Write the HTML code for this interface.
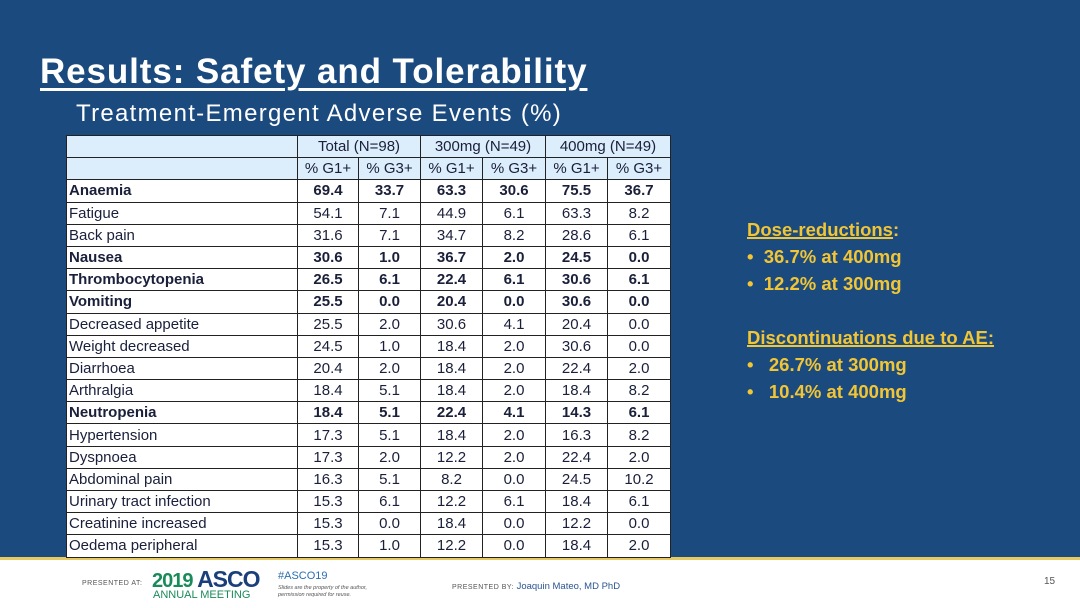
<!DOCTYPE html>
<html><head><meta charset="utf-8"><style>
body{margin:0;width:1080px;height:608px;position:relative;overflow:hidden;background:#fff;font-family:"Liberation Sans",sans-serif}
#bg{position:absolute;left:0;top:0;width:1080px;height:557px;background:#1b4a7f}
#gold{position:absolute;left:0;top:557px;width:1080px;height:3px;background:#e8c860}
#title{position:absolute;left:40px;top:52px;color:#fff;font-weight:bold;font-size:35px;letter-spacing:0.9px;text-decoration:underline;text-decoration-thickness:3px;text-underline-offset:5px;white-space:nowrap}
#sub{position:absolute;left:76px;top:100px;color:#fff;font-size:24px;white-space:nowrap;letter-spacing:1.3px}
table{position:absolute;left:66px;top:135px;border-collapse:collapse;background:#fff;table-layout:fixed}
td{border:1px solid #222;height:21.2px;padding:0 2px;font-size:15px;color:#1a1f3a;text-align:center;white-space:nowrap;overflow:hidden;letter-spacing:0}
td.l{text-align:left}
tr.h td{background:#dcedfb}
tr.b td{font-weight:bold}
#side{position:absolute;left:747px;top:216px;color:#f2c535;font-weight:bold;font-size:18.5px;line-height:27px;white-space:nowrap;letter-spacing:0}
#side u{text-decoration-thickness:2px}
.ft{position:absolute;white-space:nowrap}
</style></head><body>
<div id="bg"></div>
<div id="gold"></div>
<div id="title">Results: Safety and Tolerability</div>
<div id="sub">Treatment-Emergent Adverse Events (%)</div>
<table id="t">
<colgroup><col style="width:231px"><col style="width:61px"><col style="width:62px"><col style="width:62px"><col style="width:63px"><col style="width:62px"><col style="width:63px"></colgroup>
<tr class="h"><td></td><td colspan="2">Total (N=98)</td><td colspan="2">300mg (N=49)</td><td colspan="2">400mg (N=49)</td></tr>
<tr class="h"><td></td><td>% G1+</td><td>% G3+</td><td>% G1+</td><td>% G3+</td><td>% G1+</td><td>% G3+</td></tr>
</table>
<div id="side">
<div><u>Dose-reductions</u>:</div>
<div>•&nbsp;&nbsp;36.7% at 400mg</div>
<div>•&nbsp;&nbsp;12.2% at 300mg</div>
<div style="height:27px"></div>
<div><u>Discontinuations due to AE:</u></div>
<div>•&nbsp;&nbsp;&nbsp;26.7% at 300mg</div>
<div>•&nbsp;&nbsp;&nbsp;10.4% at 400mg</div>
</div>
<div class="ft" style="left:82px;top:580px;font-size:7px;color:#555;letter-spacing:0.5px">PRESENTED AT:</div>
<div class="ft" style="left:152px;top:566px;font-size:20px;font-weight:bold;color:#1a8a5a;letter-spacing:-1px">2019 <span style="color:#1b3f7a;font-size:23px">ASCO</span></div>
<div class="ft" style="left:153px;top:589px;font-size:11px;color:#1a8a5a">ANNUAL MEETING</div>
<div class="ft" style="left:278px;top:570px;font-size:11px;color:#2a6fb0">#ASCO19</div>
<div class="ft" style="left:278px;top:585px;font-size:5.5px;color:#555;font-style:italic;line-height:7px">Slides are the property of the author,<br>permission required for reuse.</div>
<div class="ft" style="left:452px;top:581px;font-size:7px;color:#555;letter-spacing:0.5px">PRESENTED BY: <span style="font-size:9.5px;color:#2a5590;letter-spacing:0">Joaquin Mateo, MD PhD</span></div>
<div class="ft" style="left:1044px;top:576px;font-size:10px;color:#555">15</div>
<script>
const events=["Anaemia","Fatigue","Back pain","Nausea","Thrombocytopenia","Vomiting","Decreased appetite","Weight decreased","Diarrhoea","Arthralgia","Neutropenia","Hypertension","Dyspnoea","Abdominal pain","Urinary tract infection","Creatinine increased","Oedema peripheral"];
const bold=[1,0,0,1,1,1,0,0,0,0,1,0,0,0,0,0,0];
const totalG1=["69.4","54.1","31.6","30.6","26.5","25.5","25.5","24.5","20.4","18.4","18.4","17.3","17.3","16.3","15.3","15.3","15.3"];
const totalG3=["33.7","7.1","7.1","1.0","6.1","0.0","2.0","1.0","2.0","5.1","5.1","5.1","2.0","5.1","6.1","0.0","1.0"];
const d300G1=["63.3","44.9","34.7","36.7","22.4","20.4","30.6","18.4","18.4","18.4","22.4","18.4","12.2","8.2","12.2","18.4","12.2"];
const d300G3=["30.6","6.1","8.2","2.0","6.1","0.0","4.1","2.0","2.0","2.0","4.1","2.0","2.0","0.0","6.1","0.0","0.0"];
const d400G1=["75.5","63.3","28.6","24.5","30.6","30.6","20.4","30.6","22.4","18.4","14.3","16.3","22.4","24.5","18.4","12.2","18.4"];
const d400G3=["36.7","8.2","6.1","0.0","6.1","0.0","0.0","0.0","2.0","8.2","6.1","8.2","2.0","10.2","6.1","0.0","2.0"];
const t=document.getElementById('t');
events.forEach((e,i)=>{
  const tr=document.createElement('tr');
  
  
  if(bold[i])tr.className='b';
  const vals=[e,totalG1[i],totalG3[i],d300G1[i],d300G3[i],d400G1[i],d400G3[i]];
  vals.forEach((v,j)=>{
    const td=document.createElement('td');
    
    
    if(j===0)td.className='l';
    td.textContent=v;
    tr.appendChild(td);
  });
  t.appendChild(tr);
});
</script>
</body></html>
